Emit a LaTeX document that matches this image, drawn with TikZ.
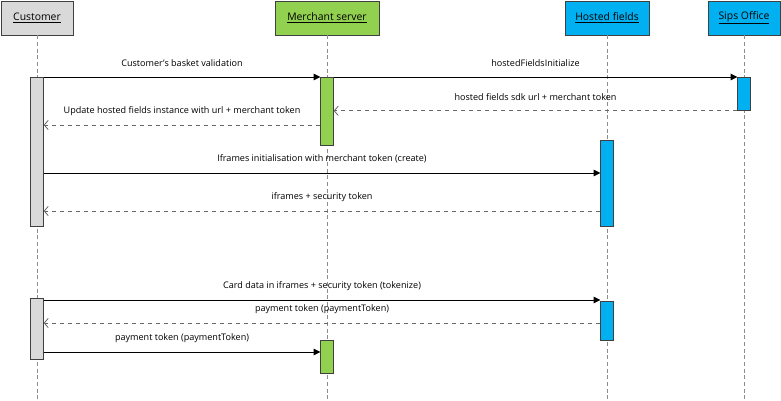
\documentclass[tikz,border=0pt]{standalone}
\usepackage{fontspec}
\setmainfont{Open Sans}
\usetikzlibrary{arrows.meta}

\definecolor{custGray}{HTML}{D9D9D9}
\definecolor{merchGreen}{HTML}{92D050}
\definecolor{sipsBlue}{HTML}{00B0F0}

\tikzset{
  actor/.style={draw=black!75, line width=0.6pt, minimum height=25.5pt, inner sep=0pt,
    font=\fontsize{7.8}{9}\selectfont},
  activebar/.style={draw=black!75, line width=0.6pt, minimum width=9.5pt, inner sep=0pt, anchor=north},
  lifeline/.style={draw=black!45, line width=0.6pt, dash pattern=on 3pt off 2pt},
  callmsg/.style={draw=black, line width=0.6pt, -{Triangle[length=5pt,width=5pt]}},
  replymsg/.style={draw=black!60, line width=0.6pt, dash pattern=on 3.5pt off 2.5pt,
    -{Straight Barb[length=3pt,width=7pt]}},
  msglabel/.style={midway, yshift=10.5pt, font=\fontsize{6.8}{8}\selectfont, inner sep=0pt}
}

\begin{document}
\begin{tikzpicture}[x=0.75pt, y=-0.75pt]
\useasboundingbox (0,0) rectangle (781,400);
% Participants
\node[actor, fill=custGray, minimum width=54pt] (customer) at (37,18) {\underline{Customer}};
\node[actor, fill=merchGreen, minimum width=78pt] (merchant) at (327,18) {\underline{Merchant server}};
\node[actor, fill=sipsBlue, minimum width=63pt] (hosted) at (607,18) {\underline{Hosted fields}};
\node[actor, fill=sipsBlue, minimum width=54pt] (sips) at (744,18) {\underline{Sips Office}};
% Lifelines
\foreach \who/\x in {customer/37, merchant/327, hosted/607, sips/744} {
  \coordinate (\who End) at (\x,400);
  \draw[lifeline] (\who) -- (\who End);
}
% Activation bars
\node[activebar, fill=custGray, minimum height=111.75pt] (cb1) at (37,77) {};
\node[activebar, fill=custGray, minimum height=45.75pt] (cb2) at (37,298) {};
\node[activebar, fill=merchGreen, minimum height=51pt] (mb1) at (327,77) {};
\node[activebar, fill=merchGreen, minimum height=24.75pt] (mb2) at (327,340) {};
\node[activebar, fill=sipsBlue, minimum height=64.5pt] (hb1) at (607,140) {};
\node[activebar, fill=sipsBlue, minimum height=29.25pt] (hb2) at (607,301) {};
\node[activebar, fill=sipsBlue, minimum height=24.75pt] (sb1) at (744,77) {};
% Message levels
\coordinate (yUpdate) at (0,125);
\coordinate (yCreate) at (0,173);
\coordinate (ySecurity) at (0,211);
\coordinate (yTokenize) at (0,300);
\coordinate (yPayment) at (0,323);
\coordinate (yForward) at (0,352);
% Messages
\draw[callmsg] (cb1.north east) -- node[msglabel] {Customer’s basket validation} (mb1.north west);
\draw[callmsg] (mb1.north east) -- node[msglabel] {hostedFieldsInitialize} (sb1.north west);
\draw[replymsg] (sb1.south west) -- node[msglabel] {hosted fields sdk url + merchant token} (mb1.east |- sb1.south);
\draw[replymsg] (mb1.west |- yUpdate) -- node[msglabel] {Update hosted fields instance with url + merchant token} (cb1.east |- yUpdate);
\draw[callmsg] (cb1.east |- yCreate) -- node[msglabel] {Iframes initialisation with merchant token (create)} (hb1.west |- yCreate);
\draw[replymsg] (hb1.west |- ySecurity) -- node[msglabel] {iframes + security token} (cb1.east |- ySecurity);
\draw[callmsg] (cb2.east |- yTokenize) -- node[msglabel] {Card data in iframes + security token (tokenize)} (hb2.west |- yTokenize);
\draw[replymsg] (hb2.west |- yPayment) -- node[msglabel] {payment token (paymentToken)} (cb2.east |- yPayment);
\draw[callmsg] (cb2.east |- yForward) -- node[msglabel] {payment token (paymentToken)} (mb2.west |- yForward);
\end{tikzpicture}
\end{document}
